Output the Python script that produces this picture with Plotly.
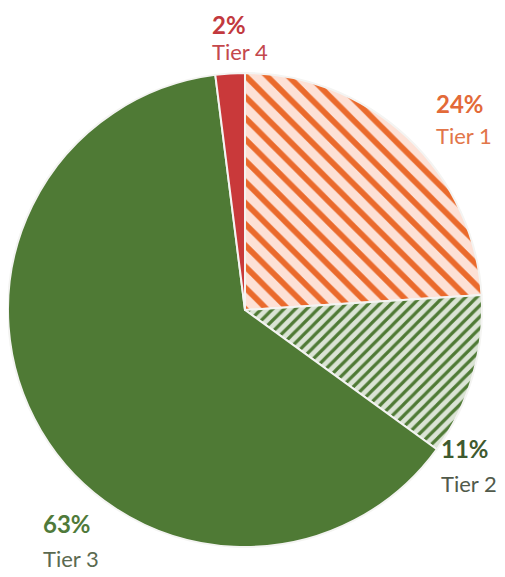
import plotly.graph_objects as go

tiers = ["Tier 1", "Tier 2", "Tier 3", "Tier 4"]
shares = [24, 11, 63, 2]

slice_colors = ["#fde1d6", "#dbe4d5", "#4f7a35", "#c9393a"]
pattern_shapes = ["\\", "/", "", ""]
pattern_fg = ["#ea6a2c", "#4f7a35", "#4f7a35", "#c9393a"]
pattern_size = [15, 8, 8, 8]
pattern_solidity = [0.38, 0.4, 0.3, 0.3]
pct_colors = ["#e36a38", "#3f5a2f", "#4f7a3a", "#c2393e"]
name_colors = ["#e2764a", "#515a4b", "#5b6a50", "#c4484c"]

# (left x, percent y, name y) in figure px; page has an 8px body offset
label_pos = [(427, 95, 127), (432, 440, 475), (34, 515, 550), (203, 16, 43)]

# sized to fit inside the window once the page's 8px margin is added
W, H = 497, 569
cx, cy, r = 237, 302, 237

fig = go.Figure(
    go.Pie(
        labels=tiers,
        values=shares,
        sort=False,
        direction="clockwise",
        rotation=0,
        marker=dict(
            colors=slice_colors,
            line=dict(color="#f4f4f2", width=2),
            pattern=dict(
                shape=pattern_shapes,
                fgcolor=pattern_fg,
                bgcolor=slice_colors,
                size=pattern_size,
                solidity=pattern_solidity,
                fillmode="replace",
            ),
        ),
        textinfo="none",
        showlegend=False,
        hoverinfo="label+percent",
        domain=dict(
            x=[(cx - r) / W, (cx + r) / W],
            y=[1 - (cy + r) / H, 1 - (cy - r) / H],
        ),
    )
)

for tier, share, (lx, py, ny), pc, nc in zip(tiers, shares, label_pos, pct_colors, name_colors):
    fig.add_annotation(
        x=lx / W, y=1 - py / H, xref="paper", yref="paper",
        text=f"<b>{share}%</b>", showarrow=False,
        xanchor="left", yanchor="middle", borderpad=0,
        font=dict(family="Lato", size=24, color=pc),
    )
    fig.add_annotation(
        x=lx / W, y=1 - ny / H, xref="paper", yref="paper",
        text=tier, showarrow=False,
        xanchor="left", yanchor="middle", borderpad=0,
        font=dict(family="Lato", size=22, color=nc),
    )

fig.update_layout(
    width=W,
    height=H,
    margin=dict(l=0, r=0, t=0, b=0),
    paper_bgcolor="white",
    plot_bgcolor="white",
)

fig.write_html("out.html")
